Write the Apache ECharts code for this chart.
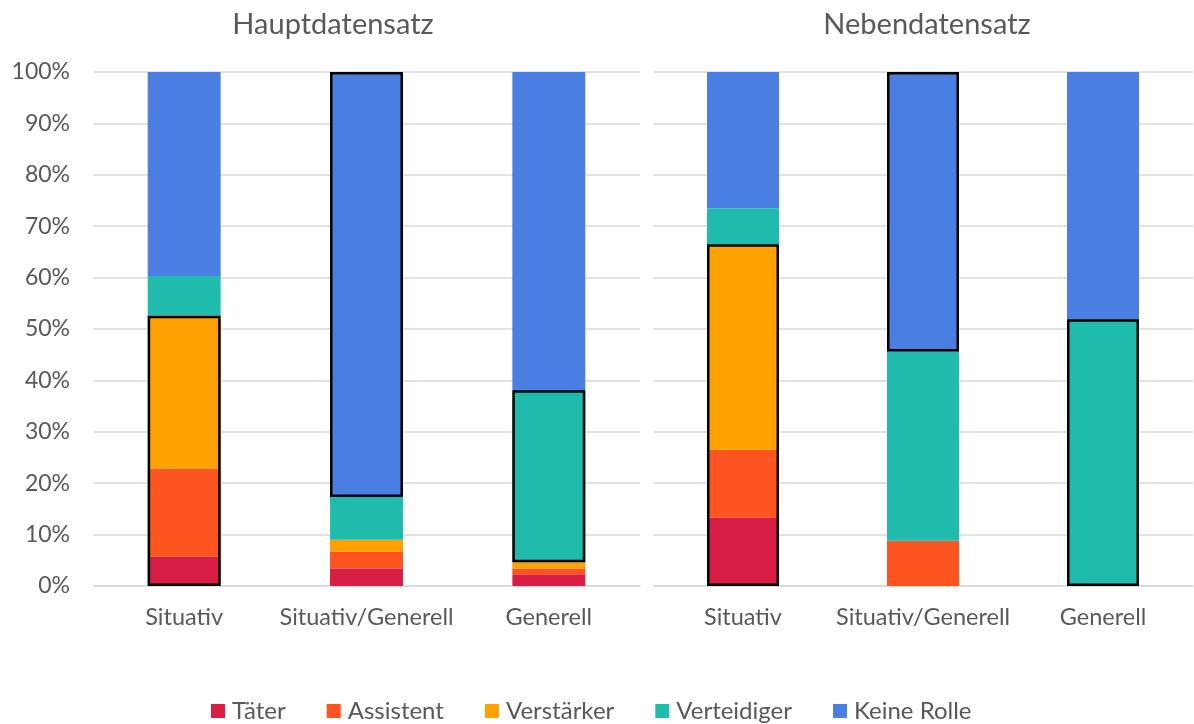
<!DOCTYPE html>
<html>
<head>
<meta charset="utf-8">
<script src="https://cdn.jsdelivr.net/npm/echarts@6/dist/echarts.min.js"></script>
<style>
  html, body { margin: 0; padding: 0; background: #fff; }
  #chart { width: 1194px; height: 724px; }
</style>
</head>
<body>
<div id="chart"></div>
<script>
// Kategorien und Rollen
const categories = ['Situativ', 'Situativ/Generell', 'Generell'];
const roles = ['Täter', 'Assistent', 'Verstärker', 'Verteidiger', 'Keine Rolle'];
const roleColors = ['#D81E45', '#FE5420', '#FFA100', '#1FBCAD', '#4A7FE1'];

// Hauptdatensatz (Anteile in %)
const hauptTaeter      = [5.7, 3.4, 2.3];
const hauptAssistent   = [17.1, 3.3, 1.1];
const hauptVerstaerker = [29.8, 2.3, 1.2];
const hauptVerteidiger = [7.7, 8.3, 33.5];
const hauptKeineRolle  = [39.7, 82.7, 61.9];

// Nebendatensatz (Anteile in %)
const nebenTaeter      = [13.3, 0, 0];
const nebenAssistent   = [13.2, 8.8, 0];
const nebenVerstaerker = [40.0, 0, 0];
const nebenVerteidiger = [7.0, 36.8, 51.9];
const nebenKeineRolle  = [26.5, 54.4, 48.1];

// umrandete Rollen je Kategorie: [erste, letzte] Rolle
const hauptOutline = [[0, 2], [4, 4], [3, 3]];
const nebenOutline = [[0, 2], [4, 4], [3, 3]];

const yTicks = [0, 10, 20, 30, 40, 50, 60, 70, 80, 90, 100];

const FONT = 'Lato';
const TEXT = '#595959';
const GRIDLINE = '#d9d9d9';

function panelSeries(idx, stackName, rows, outline) {
  const list = [];
  rows.forEach(function (vals, r) {
    list.push({
      name: roles[r],
      type: 'bar',
      xAxisIndex: idx,
      yAxisIndex: idx,
      stack: stackName,
      barWidth: '40%',
      barGap: '-100%',
      itemStyle: { color: roleColors[r] },
      data: vals
    });
  });
  // Umrandung: unsichtbarer Sockel + Rahmen
  const base = [], span = [];
  categories.forEach(function (c, ci) {
    const from = outline[ci][0], to = outline[ci][1];
    let b = 0, s = 0;
    for (let r = 0; r < from; r++) b += rows[r][ci];
    for (let r = from; r <= to; r++) s += rows[r][ci];
    base.push(b);
    span.push(s);
  });
  list.push({
    name: 'base' + idx, type: 'bar', xAxisIndex: idx, yAxisIndex: idx,
    stack: stackName + 'Out', barWidth: '40%', barGap: '-100%',
    itemStyle: { color: 'transparent' }, silent: true, z: 3, data: base
  });
  list.push({
    name: 'outline' + idx, type: 'bar', xAxisIndex: idx, yAxisIndex: idx,
    stack: stackName + 'Out', barWidth: '40%', barGap: '-100%',
    itemStyle: { color: 'transparent', borderColor: '#000', borderWidth: 2.5 },
    silent: true, z: 4, data: span
  });
  return list;
}

function xAxisCfg(idx) {
  return {
    type: 'category', gridIndex: idx, data: categories,
    axisLine: { lineStyle: { color: GRIDLINE, width: 1.5 } },
    axisTick: { show: false },
    axisLabel: { color: TEXT, fontFamily: FONT, fontSize: 23.5, margin: 19, interval: 0 }
  };
}

function yAxisCfg(idx, showLabels) {
  return {
    type: 'value', gridIndex: idx, min: 0, max: 100, interval: 10,
    axisLine: { show: false }, axisTick: { show: false },
    splitLine: { lineStyle: { color: GRIDLINE, width: 1.5 } },
    axisLabel: {
      show: showLabels, color: TEXT, fontFamily: FONT, fontSize: 23, margin: 23,
      formatter: function (v) { return yTicks.indexOf(v) >= 0 ? v + '%' : ''; }
    }
  };
}

const chart = echarts.init(document.getElementById('chart'), null, { renderer: 'canvas' });
chart.setOption({
  animation: false,
  backgroundColor: '#fff',
  title: [
    { text: 'Hauptdatensatz', left: 328, top: 5, textAlign: 'center',
      textStyle: { color: TEXT, fontFamily: FONT, fontSize: 29, fontWeight: 'normal' } },
    { text: 'Nebendatensatz', left: 922, top: 5, textAlign: 'center',
      textStyle: { color: TEXT, fontFamily: FONT, fontSize: 29, fontWeight: 'normal' } }
  ],
  legend: {
    data: roles,
    left: 206,
    top: 694,
    icon: 'rect',
    itemWidth: 14,
    itemHeight: 14,
    itemGap: 41,
    textStyle: { color: TEXT, fontFamily: FONT, fontSize: 24, padding: [0, 0, 0, 2] }
  },
  grid: [
    { left: 93, right: 554, top: 72, bottom: 138 },
    { left: 653, right: 1, top: 72, bottom: 138 }
  ],
  xAxis: [xAxisCfg(0), xAxisCfg(1)],
  yAxis: [yAxisCfg(0, true), yAxisCfg(1, false)],
  series: panelSeries(0, 'haupt',
      [hauptTaeter, hauptAssistent, hauptVerstaerker, hauptVerteidiger, hauptKeineRolle], hauptOutline)
    .concat(panelSeries(1, 'neben',
      [nebenTaeter, nebenAssistent, nebenVerstaerker, nebenVerteidiger, nebenKeineRolle], nebenOutline))
});
</script>
</body>
</html>
